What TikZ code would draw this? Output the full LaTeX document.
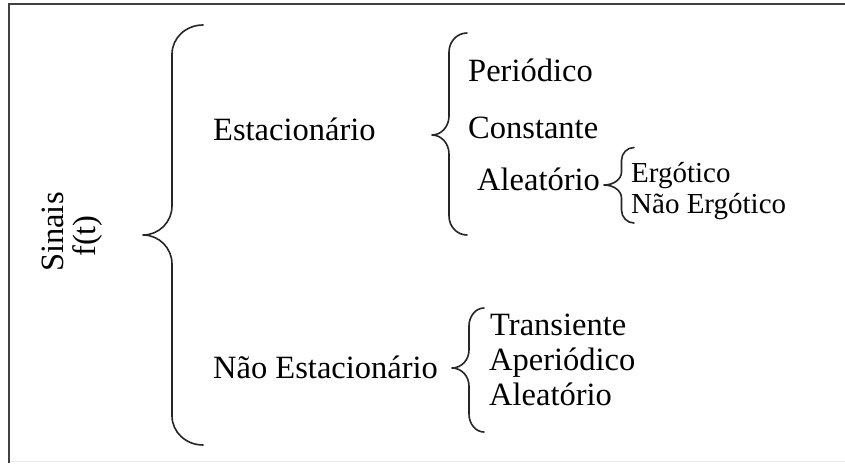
\documentclass[tikz,border=0pt]{standalone}
\usepackage{fontspec}
\setmainfont{Liberation Serif}
\newcommand\curlybrace[7]{% tipx, tipy, vx, endx, topy, boty, r
  \draw[bracestyle] (#4,#5)
    .. controls ({#4-0.552*(#4-#3)},#5) and (#3,{#5+#7-0.552*#7}) .. (#3,{#5+#7})
    -- (#3,{#2-#7})
    .. controls (#3,{#2-#7+0.552*#7}) and ({#1+0.552*(#3-#1)},#2) .. (#1,#2)
    .. controls ({#1+0.552*(#3-#1)},#2) and (#3,{#2+#7-0.552*#7}) .. (#3,{#2+#7})
    -- (#3,{#6-#7})
    .. controls (#3,{#6-#7+0.552*#7}) and ({#4-0.552*(#4-#3)},#6) .. (#4,#6);}
\begin{document}
\begin{tikzpicture}[x=1pt,y=-1pt,
  bracestyle/.style={line width=1.6pt,draw=black!85,line cap=round,line join=round},
  lbl/.style={inner sep=0pt,anchor=base west,font=\fontsize{32.5}{38}\selectfont},
  sml/.style={inner sep=0pt,anchor=base west,font=\fontsize{29}{34}\selectfont}]
\useasboundingbox (0,0) rectangle (845,463);
\fill[white] (0,0) rectangle (845,463);
% frame
\draw[line width=1pt,draw=black!8] (9,461.5) -- (845,461.5);
\draw[line width=2.6pt,draw=black!75] (9,463) -- (9,4) -- (845,4);
% root
\node[lbl,rotate=90] (sinais) at (63,272) {Sinais};
\node[lbl,rotate=90] (ft) at (95,257) {f(t)};
% braces
\curlybrace{143}{235}{172}{203}{25}{445}{29}
\curlybrace{432}{135}{449}{467}{33}{235}{19}
\curlybrace{604}{185}{621.5}{634}{147.5}{223}{13}
\curlybrace{452}{368}{469}{484}{308}{432}{18}
% level 1
\node[lbl] (est) at (213,140) {Estacionário};
\node[lbl] (nest) at (213,378) {Não Estacionário};
% stationary
\node[lbl] (per) at (468,81) {Periódico};
\node[lbl] (con) at (468,138) {Constante};
\node[lbl] (ale) at (477,190) {Aleatório};
\node[sml] (erg) at (631,182) {Ergótico};
\node[sml] (nerg) at (631,213) {Não Ergótico};
% non-stationary
\node[lbl] (tra) at (490,335) {Transiente};
\node[lbl] (ape) at (489,370) {Aperiódico};
\node[lbl] (ale2) at (489,405) {Aleatório};
\end{tikzpicture}
\end{document}
